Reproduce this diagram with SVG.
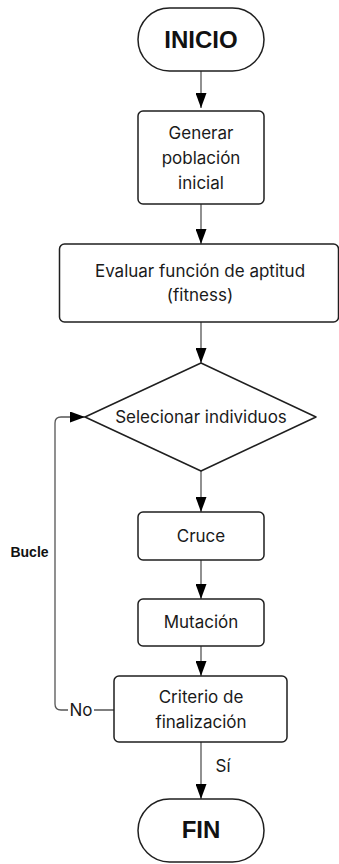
<svg xmlns="http://www.w3.org/2000/svg" width="339" height="864" viewBox="0 0 339 864">
<defs>
<style>
.box{fill:#fff;stroke:#1f1f1f;stroke-width:1.5}
.t{font-family:Inter,"Noto Sans",sans-serif;font-size:17px;fill:#1a1a1a;text-anchor:middle}
.b{font-family:"Liberation Sans",Arial,sans-serif;font-weight:bold;fill:#111;text-anchor:middle}
.c{fill:none;stroke:#555;stroke-width:1.3}
</style>
<marker id="ah" markerUnits="userSpaceOnUse" markerWidth="15" markerHeight="11" refX="15" refY="5.5" orient="auto">
<path d="M0,0 L15,5.5 L0,11 z" fill="#000"/>
</marker>
</defs>
<rect width="339" height="864" fill="#fff"/>
<g id="connectors">
<line class="c" x1="201" y1="71" x2="201" y2="108" marker-end="url(#ah)"/>
<line class="c" x1="201" y1="204" x2="201" y2="244" marker-end="url(#ah)"/>
<line class="c" x1="201" y1="322" x2="201" y2="363" marker-end="url(#ah)"/>
<line class="c" x1="201" y1="471" x2="201" y2="512" marker-end="url(#ah)"/>
<line class="c" x1="201" y1="560" x2="201" y2="599" marker-end="url(#ah)"/>
<line class="c" x1="201" y1="646" x2="201" y2="676" marker-end="url(#ah)"/>
<line class="c" x1="201" y1="742" x2="201" y2="799" marker-end="url(#ah)"/>
<path class="c" d="M114,710 H61 Q55,710 55,704 V423 Q55,417 61,417 H85" marker-end="url(#ah)"/>
<rect x="68" y="700" width="26" height="20" fill="#fff"/>
<text class="t" x="81" y="716">No</text>
<text class="t" x="223" y="772">Sí</text>
<text class="b" x="29.5" y="557" font-size="14">Bucle</text>
</g>
<g id="inicio">
<rect class="box" x="138" y="8" width="126" height="63" rx="31.5"/>
<text class="b" x="201" y="48" font-size="24">INICIO</text>
</g>
<g id="generar">
<rect class="box" x="138" y="111" width="126" height="93" rx="5"/>
<text class="t" x="201" y="139">Generar</text>
<text class="t" x="201" y="164">población</text>
<text class="t" x="201" y="189">inicial</text>
</g>
<g id="evaluar">
<rect class="box" x="59.5" y="244" width="279" height="78" rx="5"/>
<text class="t" x="200" y="277">Evaluar función de aptitud</text>
<text class="t" x="200" y="301">(fitness)</text>
</g>
<g id="seleccionar">
<path class="box" d="M201,363 L316,417 L201,471 L85,417 Z" stroke-linejoin="round"/>
<text class="t" x="201" y="423">Selecionar individuos</text>
</g>
<g id="cruce">
<rect class="box" x="138" y="512" width="126" height="48" rx="5"/>
<text class="t" x="201" y="542">Cruce</text>
</g>
<g id="mutacion">
<rect class="box" x="138" y="599" width="126" height="47" rx="5"/>
<text class="t" x="201" y="628">Mutación</text>
</g>
<g id="criterio">
<rect class="box" x="114" y="676" width="173" height="66" rx="5"/>
<text class="t" x="201" y="703">Criterio de</text>
<text class="t" x="201" y="728">finalización</text>
</g>
<g id="fin">
<rect class="box" x="138" y="799" width="126" height="63" rx="31.5"/>
<text class="b" x="201" y="838" font-size="24">FIN</text>
</g>
</svg>
